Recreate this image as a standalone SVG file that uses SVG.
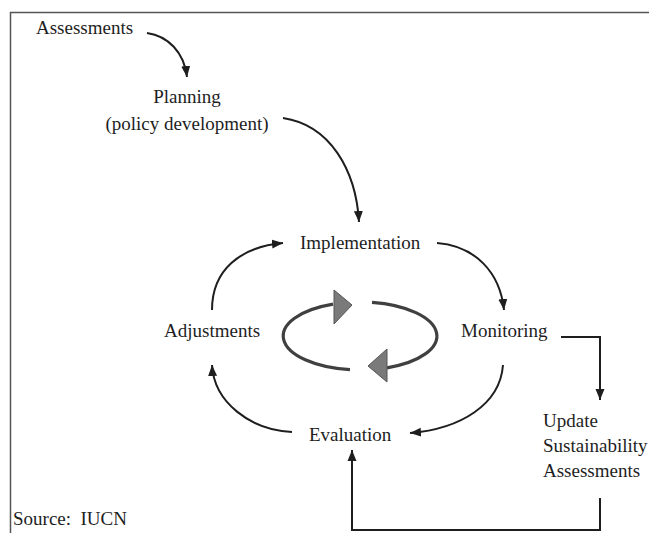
<svg xmlns="http://www.w3.org/2000/svg" width="649" height="533" viewBox="0 0 649 533">
<defs>
<style>
.t{font-family:"Liberation Serif","Times New Roman",serif;font-size:19px;fill:#1e1e1e;white-space:pre}
.c{fill:none;stroke:#1e1e1e;stroke-width:2}
.cy{fill:none;stroke:#404040;stroke-width:3.2}
.tri{fill:#7a7a7a;stroke:#555;stroke-width:1}
</style>
<marker id="ah" markerUnits="userSpaceOnUse" markerWidth="12" markerHeight="12" viewBox="0 0 12 12" refX="11" refY="6" orient="auto">
<path d="M0,1.5 L11,6 L0,10.5 Z" fill="#1e1e1e"/>
</marker>
</defs>
<rect width="649" height="533" fill="#fff"/>
<path d="M10.5,533 V12.5 H649" fill="none" stroke="#555" stroke-width="1.5"/>
<g id="assessments"><text class="t" x="36" y="34">Assessments</text></g>
<g id="planning"><text class="t" x="187" y="103" text-anchor="middle">Planning</text><text class="t" x="187" y="130" text-anchor="middle">(policy development)</text></g>
<g id="implementation"><text class="t" x="300" y="249">Implementation</text></g>
<g id="adjustments"><text class="t" x="164" y="337">Adjustments</text></g>
<g id="monitoring"><text class="t" x="461" y="337">Monitoring</text></g>
<g id="evaluation"><text class="t" x="309" y="441">Evaluation</text></g>
<g id="update"><text class="t" x="543" y="427">Update</text><text class="t" x="543" y="452">Sustainability</text><text class="t" x="543" y="477">Assessments</text></g>
<g id="source"><text class="t" x="13" y="525">Source:  IUCN</text></g>
<g id="cycle">
<path class="cy" d="M350,369.7 A77,34 0 0 1 333,304.2"/>
<path class="cy" d="M372,302.4 A77,34 0 0 1 387,367.8"/>
<path class="tri" d="M334,290 L334,324 L352,305 Z"/>
<path class="tri" d="M387,349 L387,382 L368,366 Z"/>
</g>
<g id="connectors">
<path class="c" d="M147,33 C168,36 184,52 187,77" marker-end="url(#ah)"/>
<path class="c" d="M283,118 C330,125 356,170 359,222" marker-end="url(#ah)"/>
<path class="c" d="M212,310 C212,270 240,247 283,243" marker-end="url(#ah)"/>
<path class="c" d="M437,243 C475,246 500,272 504,310" marker-end="url(#ah)"/>
<path class="c" d="M503,365 C500,405 460,429 410,433" marker-end="url(#ah)"/>
<path class="c" d="M292,432 C250,430 214,402 212,365" marker-end="url(#ah)"/>
<path class="c" d="M561,337 H600 V400" marker-end="url(#ah)"/>
<path class="c" d="M600,498 V530 H352 V450" marker-end="url(#ah)"/>
</g>
</svg>
